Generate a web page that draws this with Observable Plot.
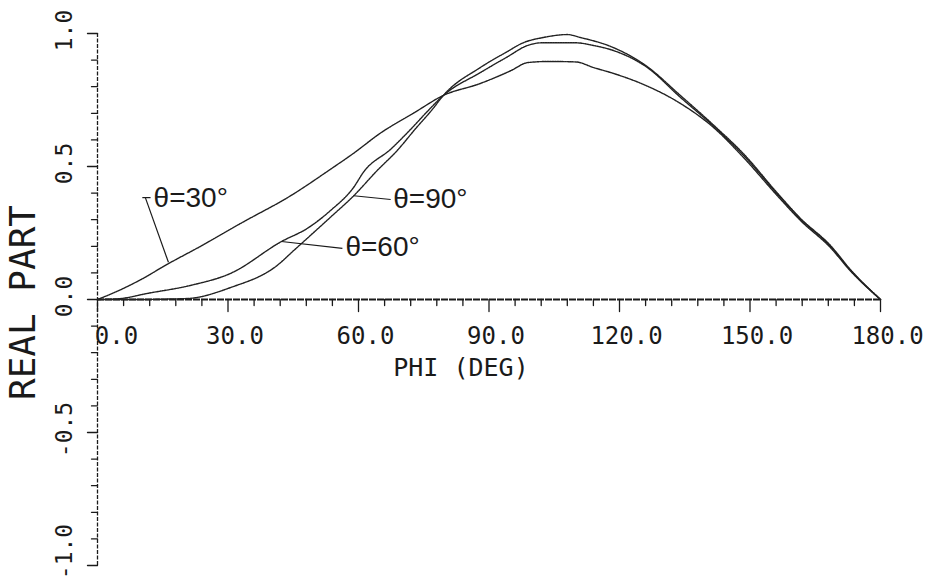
<!DOCTYPE html>
<html><head><meta charset="utf-8">
<script src="https://cdn.jsdelivr.net/npm/d3@7"></script>
<script src="https://cdn.jsdelivr.net/npm/@observablehq/plot@0.6"></script>
<style>
html,body{margin:0;padding:0;background:#fff;}
#chart{width:932px;height:588px;overflow:hidden;}
svg{display:block;}
</style></head><body><div id="chart"></div>
<script>
// ---- data ----
const phi30  = [0, 3, 6, 10, 16, 23.7, 32.9, 44.4, 53.6, 58.9, 65, 72.6, 79.5, 88, 95, 99, 104, 110, 114, 118.6, 126, 134, 141.6, 148.5, 156.3, 161.6, 168.5, 173, 180];
const real30 = [0, 0.02, 0.042, 0.075, 0.132, 0.2, 0.286, 0.39, 0.49, 0.55, 0.625, 0.7, 0.767, 0.812, 0.86, 0.891, 0.895, 0.893, 0.872, 0.85, 0.805, 0.737, 0.647, 0.534, 0.39, 0.297, 0.195, 0.109, 0];

const phi60  = [0, 5, 11.5, 21.4, 30.6, 42.3, 48.2, 53.6, 58.9, 61.2, 67.4, 72, 76, 79.5, 88, 94, 98.9, 102, 110, 114, 118.6, 126.4, 134, 141.6, 148.5, 156.3, 161.6, 168.5, 173, 180];
const real60 = [0, 0.003, 0.023, 0.053, 0.098, 0.218, 0.267, 0.335, 0.422, 0.48, 0.565, 0.64, 0.71, 0.767, 0.853, 0.91, 0.955, 0.965, 0.965, 0.955, 0.936, 0.872, 0.76, 0.652, 0.542, 0.396, 0.302, 0.2, 0.112, 0];

const phi90  = [0, 10, 17, 21, 30.6, 41.3, 45.1, 53.6, 58.9, 64.3, 68.9, 73, 77, 79.5, 88, 94, 98, 102.5, 108, 111, 118.6, 126, 134, 141.6, 148.5, 156.3, 161.6, 168.5, 173, 180];
const real90 = [0, 0, 0.002, 0.004, 0.045, 0.128, 0.184, 0.31, 0.39, 0.485, 0.56, 0.64, 0.715, 0.767, 0.872, 0.93, 0.966, 0.985, 0.996, 0.985, 0.947, 0.88, 0.767, 0.656, 0.548, 0.4, 0.305, 0.203, 0.114, 0];

const xMajorTicks = [0, 30, 60, 90, 120, 150, 180];
const xTickLabels = ["0.0", "30.0", "60.0", "90.0", "120.0", "150.0", "180.0"];
const xMinorTicks = [6, 12, 18, 24, 36, 42, 48, 54, 66, 72, 78, 84, 96, 102, 108, 114, 126, 132, 138, 144, 156, 162, 168, 174];
const yMajorTicks = [-1, -0.5, 0, 0.5, 1];
const yTickLabels = ["-1.0", "-0.5", "0.0", "0.5", "1.0"];
const yMinorTicks = [-0.9, -0.8, -0.7, -0.6, -0.4, -0.3, -0.2, -0.1, 0.1, 0.2, 0.3, 0.4, 0.6, 0.7, 0.8, 0.9];

const xTitle = "PHI (DEG)";
const yTitle = "REAL PART";

// curve labels: text anchor point and pointer segments (data coordinates)
const labelText = ["θ=30°", "θ=60°", "θ=90°"];
const labelPhi  = [12.9, 57.0, 68.0];
const labelVal  = [0.383, 0.199, 0.376];
const pointerPhi1 = [16.3, 42.3, 58.9];
const pointerVal1 = [0.14, 0.218, 0.39];
const pointerPhi2 = [11.0, 56.3, 67.4];
const pointerVal2 = [0.383, 0.192, 0.376];
const stubPhi1 = [10.3];
const stubPhi2 = [12.2];
const stubVal  = [0.383];

// ---- tables ----
const curves = [
  ...phi30.map((p, i) => ({phi: p, value: real30[i], series: "30"})),
  ...phi60.map((p, i) => ({phi: p, value: real60[i], series: "60"})),
  ...phi90.map((p, i) => ({phi: p, value: real90[i], series: "90"}))
];
const labels = labelText.map((t, i) => ({text: t, phi: labelPhi[i], value: labelVal[i]}));
const pointers = labelText.map((t, i) => ({x1: pointerPhi1[i], y1: pointerVal1[i], x2: pointerPhi2[i], y2: pointerVal2[i]}))
  .concat(stubPhi1.map((p, i) => ({x1: p, y1: stubVal[i], x2: stubPhi2[i], y2: stubVal[i]})));
const yLabelRows = yMajorTicks.map((v, i) => ({value: v, text: yTickLabels[i]}));

const tickDown = {draw(ctx, l) { ctx.moveTo(0, 0); ctx.lineTo(0, l); }};
const tickLeft = {draw(ctx, l) { ctx.moveTo(0, 0); ctx.lineTo(-l, 0); }};

const mono = "'DejaVu Sans Mono', monospace";
const ink = "#1a1a1a";

const chart = Plot.plot({
  width: 932,
  height: 588,
  marginLeft: 97,
  marginRight: 52,
  marginTop: 33,
  marginBottom: 23,
  x: {domain: [0, 180], axis: null},
  y: {domain: [-1, 1], axis: null},
  style: {background: "#fff", overflow: "visible"},
  marks: [
    // axes lines
    Plot.ruleY([0], {x1: 0, x2: 180, stroke: ink, strokeWidth: 1.8, strokeDasharray: "7 1"}),
    Plot.ruleX([0], {y1: -1, y2: 1, stroke: ink, strokeWidth: 1.3, strokeDasharray: "4 1.5"}),
    // ticks
    Plot.vector(xMinorTicks, {x: d => d, y: 0, length: 6, shape: tickDown, anchor: "start", stroke: ink, strokeWidth: 1.3}),
    Plot.vector(xMajorTicks, {x: d => d, y: 0, length: 12, shape: tickDown, anchor: "start", stroke: ink, strokeWidth: 1.3}),
    Plot.vector(yMinorTicks, {x: 0, y: d => d, length: 6, shape: tickLeft, anchor: "start", stroke: ink, strokeWidth: 1.3}),
    Plot.vector(yMajorTicks, {x: 0, y: d => d, length: 10, shape: tickLeft, anchor: "start", stroke: ink, strokeWidth: 1.3}),
    // x tick labels
    Plot.text(xMajorTicks.slice(0, 1), {x: d => d, y: 0, text: (d, i) => xTickLabels[i], dy: 37, dx: 19, fontSize: 24, fontFamily: mono, fill: ink}),
    Plot.text(xMajorTicks.slice(1), {x: d => d, y: 0, text: (d, i) => xTickLabels[i + 1], dy: 37, dx: 7, fontSize: 24, fontFamily: mono, fill: ink}),
    // y tick labels
    Plot.text(yLabelRows.filter(d => d.value > -1), {x: 0, y: "value", text: "text", rotate: -90, dx: -33, dy: -3, fontSize: 23, fontFamily: mono, fill: ink}),
    Plot.text(yLabelRows.filter(d => d.value === -1), {x: 0, y: "value", text: "text", rotate: -90, dx: -33, dy: -14, fontSize: 23, fontFamily: mono, fill: ink}),
    // axis titles
    Plot.text([xTitle], {frameAnchor: "middle", text: d => d, dx: -28, dy: 68, fontSize: 25, fontFamily: mono, fill: ink}),
    Plot.text([yTitle], {frameAnchor: "left", textAnchor: "middle", text: d => d, rotate: -90, dx: -74, dy: 3, fontSize: 36, fontFamily: mono, fill: ink}),
    // curves
    Plot.line(curves, {x: "phi", y: "value", z: "series", stroke: "#222", strokeWidth: 1.4, strokeDasharray: "1.6 0.9", curve: "monotone-x"}),
    // pointers & labels
    Plot.link(pointers, {x1: "x1", y1: "y1", x2: "x2", y2: "y2", stroke: ink, strokeWidth: 1.2}),
    Plot.text(labels, {x: "phi", y: "value", text: "text", textAnchor: "start", fontSize: 28, fontFamily: "'Liberation Sans', Arial, sans-serif", fill: ink})
  ]
});
document.getElementById("chart").appendChild(chart);
</script>
</body></html>
